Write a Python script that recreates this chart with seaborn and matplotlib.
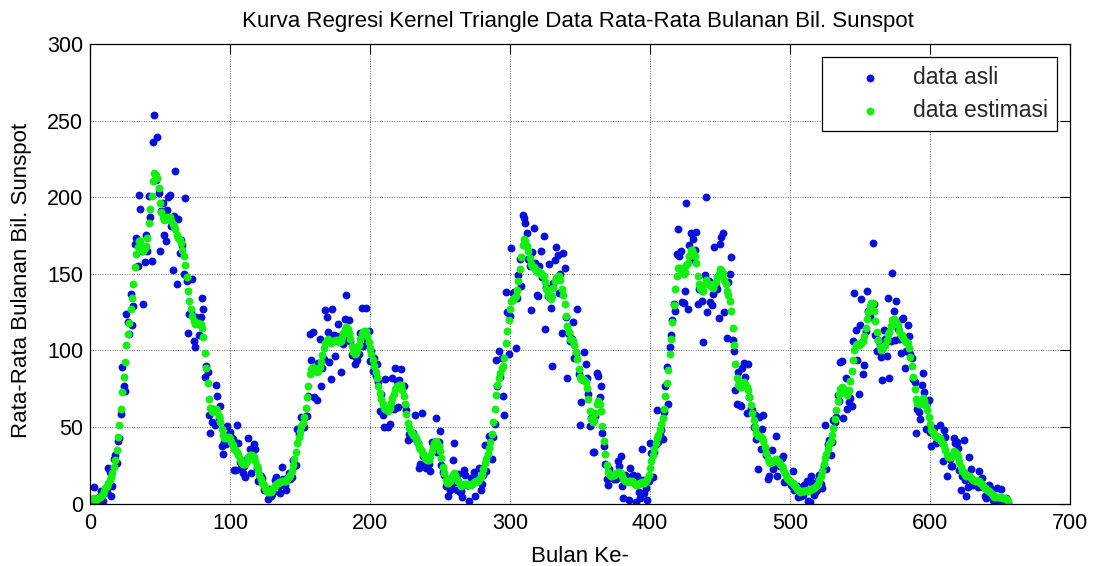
import numpy as np
import matplotlib
matplotlib.use("Agg")
import matplotlib.pyplot as plt
import seaborn as sns

judul = "Kurva Regresi Kernel Triangle Data Rata-Rata Bulanan Bil. Sunspot"
label_x = "Bulan Ke-"
label_y = "Rata-Rata Bulanan Bil. Sunspot"
nama_seri = ["data asli", "data estimasi"]
x_ticks = [0, 100, 200, 300, 400, 500, 600, 700]
y_ticks = [0, 50, 100, 150, 200, 250, 300]

data_asli = [
    0.2, 0.5, 10.9, 1.8, 0.8, 0.2, 4.8, 8.4, 1.5, 7.0, 9.2, 7.6,
    23.1, 20.8, 4.9, 11.3, 28.9, 31.7, 26.7, 40.7, 42.7, 58.5, 89.2, 76.9,
    73.6, 124.0, 118.4, 110.7, 136.6, 116.6, 129.1, 169.6, 173.2, 155.3, 201.3, 192.1,
    165.0, 130.2, 157.4, 175.2, 164.6, 200.7, 187.2, 158.0, 235.8, 253.8, 210.9, 239.4,
    202.5, 164.9, 190.7, 196.0, 175.3, 171.5, 191.4, 200.2, 201.2, 181.5, 152.3, 187.6,
    217.4, 143.1, 185.7, 163.3, 172.0, 168.7, 149.6, 199.6, 145.2, 111.4, 124.0, 125.0,
    146.3, 106.0, 102.2, 122.0, 119.6, 110.2, 121.7, 134.1, 127.2, 82.8, 89.6, 85.6,
    57.9, 46.1, 53.0, 61.4, 51.0, 77.4, 70.2, 55.8, 63.6, 37.7, 32.6, 39.9,
    38.7, 50.3, 45.6, 46.4, 43.7, 42.0, 21.8, 21.8, 51.3, 39.5, 26.9, 23.2,
    19.8, 24.4, 17.1, 29.3, 43.0, 35.9, 19.6, 33.2, 38.8, 35.3, 23.4, 14.9,
    15.3, 17.7, 16.5, 8.6, 9.5, 9.1, 3.1, 9.3, 4.7, 6.1, 7.4, 15.1,
    17.5, 14.2, 11.7, 6.8, 24.1, 15.9, 11.9, 8.9, 16.8, 20.1, 15.8, 17.0,
    28.2, 24.4, 25.3, 48.7, 45.3, 47.7, 56.7, 51.2, 50.2, 57.2, 57.2, 70.4,
    110.9, 93.6, 111.8, 69.5, 86.5, 67.3, 91.5, 107.2, 76.8, 88.2, 94.3, 126.4,
    121.8, 111.9, 92.2, 81.2, 127.2, 110.3, 96.1, 109.3, 117.2, 107.7, 86.0, 109.8,
    104.4, 120.5, 135.8, 106.8, 120.0, 106.0, 96.8, 98.0, 91.3, 95.7, 93.5, 97.9,
    111.5, 127.8, 102.9, 109.5, 127.5, 106.8, 112.5, 93.0, 99.5, 86.6, 95.2, 83.5,
    91.3, 79.0, 60.7, 71.8, 57.5, 49.8, 81.0, 61.4, 50.2, 51.7, 63.2, 82.2,
    61.5, 88.4, 80.1, 63.2, 80.5, 88.0, 76.5, 76.8, 64.0, 61.3, 41.6, 45.3,
    43.4, 42.9, 46.0, 57.7, 42.4, 39.5, 23.1, 25.6, 59.3, 30.7, 23.9, 23.3,
    27.6, 26.0, 21.3, 40.3, 39.5, 36.0, 55.8, 33.6, 40.2, 47.1, 25.0, 20.5,
    18.9, 11.5, 11.5, 5.1, 9.0, 11.4, 28.2, 39.7, 13.9, 9.1, 19.4, 7.8,
    8.1, 4.3, 21.9, 18.8, 12.4, 12.2, 1.9, 16.4, 13.5, 20.6, 5.2, 15.3,
    16.4, 23.1, 8.7, 12.9, 18.6, 38.5, 21.4, 30.1, 44.0, 43.8, 29.1, 43.2,
    51.9, 93.6, 76.5, 99.7, 82.7, 95.1, 70.4, 58.1, 138.2, 125.1, 97.9, 122.7,
    166.6, 137.5, 138.0, 101.5, 134.4, 149.5, 159.4, 142.2, 188.4, 186.2, 183.3, 176.3,
    159.6, 155.0, 126.2, 164.1, 179.9, 157.3, 136.3, 135.4, 155.0, 164.7, 147.9, 174.4,
    114.0, 141.3, 135.5, 156.4, 127.5, 90.0, 143.8, 158.7, 167.3, 162.4, 137.5, 150.1,
    111.2, 163.6, 153.8, 122.0, 82.2, 110.4, 106.1, 107.6, 118.8, 94.7, 98.1, 127.0,
    84.3, 51.0, 66.5, 80.7, 99.2, 91.1, 82.2, 71.8, 50.3, 55.8, 33.3, 33.4,
    57.0, 85.4, 83.5, 69.7, 76.4, 46.1, 37.4, 25.5, 15.7, 12.0, 22.8, 18.7,
    16.5, 15.9, 17.2, 16.2, 27.5, 24.2, 30.7, 11.1, 3.9, 18.6, 16.2, 17.3,
    2.5, 23.2, 15.1, 18.5, 13.7, 1.1, 18.1, 7.4, 3.8, 35.4, 15.2, 6.8,
    10.4, 2.4, 14.7, 39.6, 33.0, 17.4, 33.9, 38.8, 61.0, 40.0, 45.0, 48.0,
    42.0, 60.0, 77.0, 89.0, 65.0, 102.0, 110.0, 120.0, 130.0, 126.0, 163.0, 179.0,
    161.3, 165.1, 131.4, 130.6, 138.5, 196.2, 126.9, 168.9, 176.7, 159.4, 173.0, 165.5,
    177.3, 130.5, 140.3, 140.3, 132.2, 105.4, 149.4, 200.3, 125.2, 145.5, 131.4, 129.7,
    136.9, 167.5, 141.9, 140.0, 121.3, 169.7, 173.7, 176.3, 125.3, 144.1, 108.2, 144.4,
    150.0, 161.1, 106.7, 99.8, 73.8, 65.2, 85.7, 64.5, 63.9, 88.7, 91.8, 82.6,
    59.3, 91.0, 69.8, 62.2, 61.3, 49.8, 57.9, 42.2, 22.4, 56.4, 35.6, 48.9,
    57.8, 35.5, 31.7, 16.1, 17.8, 28.0, 35.1, 22.5, 25.7, 44.0, 18.0, 26.2,
    24.2, 29.9, 31.1, 14.0, 14.5, 15.6, 14.5, 14.3, 11.8, 21.1, 9.0, 10.0,
    11.5, 4.4, 9.2, 4.8, 5.5, 11.8, 8.2, 14.4, 1.6, 0.9, 17.9, 13.3,
    5.7, 7.6, 8.7, 15.5, 18.5, 12.7, 10.4, 24.4, 51.3, 22.8, 39.0, 41.2,
    31.9, 40.3, 54.8, 53.4, 56.3, 70.7, 66.6, 92.2, 92.9, 55.5, 74.0, 81.9,
    62.0, 66.3, 68.8, 63.7, 106.4, 137.7, 113.5, 93.7, 71.5, 116.7, 133.2, 84.6,
    90.1, 112.9, 138.5, 125.5, 121.6, 124.9, 170.1, 130.5, 109.7, 99.4, 106.8, 104.4,
    95.6, 80.6, 113.5, 107.7, 96.6, 134.0, 81.8, 106.4, 150.7, 125.5, 106.5, 132.2,
    114.1, 107.4, 98.4, 120.7, 120.8, 88.3, 99.6, 116.4, 109.6, 97.5, 95.0, 81.6,
    79.5, 46.2, 61.5, 60.0, 55.2, 77.4, 85.0, 72.7, 48.8, 65.5, 67.3, 46.5,
    37.3, 45.8, 49.1, 39.3, 41.5, 43.2, 51.1, 40.9, 27.7, 48.0, 43.5, 17.9,
    31.3, 29.2, 24.5, 24.4, 42.6, 39.6, 39.9, 36.4, 22.1, 8.5, 18.0, 41.2,
    15.3, 4.9, 10.6, 30.2, 22.3, 13.9, 12.2, 12.9, 14.4, 10.5, 21.4, 13.6,
    16.9, 10.6, 4.8, 3.7, 11.7, 12.0, 10.0, 6.2, 2.4, 0.9, 1.7, 10.1,
    3.4, 2.1, 9.3, 2.9, 3.2, 3.4, 0.5, 0.5,
]

data_estimasi = [
    2.7, 2.9, 3.3, 3.2, 3.2, 3.5, 4.2, 4.8, 6.1, 8.2, 9.9, 11.4,
    13.6, 15.6, 17.0, 20.0, 24.1, 28.6, 35.1, 43.3, 51.4, 61.4, 72.6, 82.4,
    92.6, 103.2, 110.8, 118.0, 126.9, 134.1, 143.0, 154.1, 163.0, 167.7, 171.7, 171.4,
    167.4, 165.1, 166.8, 168.4, 173.5, 183.3, 192.0, 200.5, 210.8, 215.8, 214.7, 212.6,
    205.9, 196.2, 190.3, 187.3, 185.1, 185.7, 186.8, 186.7, 187.0, 184.7, 182.3, 181.1,
    179.4, 175.2, 173.5, 172.2, 169.8, 165.5, 161.4, 156.0, 147.9, 138.9, 132.0, 126.9,
    122.5, 118.9, 117.4, 117.6, 118.1, 117.3, 117.2, 114.9, 108.4, 98.4, 88.6, 78.6,
    68.5, 62.3, 60.2, 59.5, 60.1, 61.5, 60.4, 57.2, 53.2, 48.4, 44.6, 43.0,
    42.7, 43.3, 43.3, 42.0, 40.4, 38.5, 35.8, 34.4, 33.8, 31.9, 29.2, 27.3,
    26.1, 25.6, 26.0, 28.0, 30.4, 31.6, 31.6, 31.6, 30.2, 27.6, 24.6, 21.6,
    18.6, 16.0, 13.7, 11.8, 10.2, 8.8, 7.4, 7.2, 7.6, 8.6, 10.0, 11.4,
    12.7, 13.6, 14.0, 14.1, 14.6, 14.6, 14.6, 14.9, 16.1, 17.2, 18.6, 21.4,
    25.1, 28.8, 33.6, 39.2, 43.5, 47.2, 50.4, 52.8, 56.6, 62.2, 69.4, 76.8,
    84.4, 87.8, 89.3, 88.5, 87.4, 85.7, 86.8, 89.4, 92.7, 97.2, 101.8, 104.8,
    106.5, 107.1, 105.6, 104.7, 105.8, 106.0, 105.8, 106.7, 106.8, 105.6, 106.3, 108.8,
    111.1, 113.7, 115.2, 114.0, 111.4, 107.4, 102.8, 99.2, 97.8, 98.4, 100.3, 103.3,
    107.4, 110.8, 112.2, 112.8, 112.4, 109.2, 105.6, 101.6, 97.8, 93.6, 90.0, 86.0,
    82.0, 76.6, 72.0, 68.5, 65.0, 62.3, 61.8, 61.2, 60.7, 62.6, 65.8, 68.6,
    71.2, 74.8, 76.5, 77.0, 77.4, 77.2, 74.0, 70.0, 64.8, 58.6, 52.7, 49.3,
    47.0, 46.0, 45.0, 43.8, 42.0, 39.8, 37.2, 35.4, 34.4, 32.1, 29.8, 28.8,
    28.5, 28.4, 30.8, 34.2, 36.9, 39.2, 40.8, 39.8, 37.6, 34.3, 29.4, 24.0,
    19.6, 15.5, 13.2, 13.3, 14.6, 16.4, 18.9, 19.9, 18.5, 16.3, 14.7, 12.7,
    11.7, 12.2, 12.9, 12.9, 12.7, 12.7, 12.3, 12.4, 12.8, 13.8, 13.9, 14.6,
    15.0, 16.3, 17.1, 19.3, 22.4, 26.3, 28.9, 32.4, 36.0, 40.4, 45.1, 53.0,
    61.6, 71.1, 77.6, 82.1, 85.2, 88.4, 90.0, 94.7, 104.5, 112.8, 119.9, 127.0,
    132.5, 133.0, 134.2, 135.2, 139.4, 145.2, 153.0, 160.7, 169.0, 172.4, 171.4, 168.4,
    164.8, 160.3, 156.4, 155.3, 154.6, 153.1, 151.4, 152.0, 151.3, 150.5, 149.1, 148.4,
    144.3, 140.1, 136.6, 135.1, 133.8, 135.7, 140.4, 145.3, 147.4, 148.8, 148.6, 145.9,
    140.2, 136.3, 130.3, 122.7, 115.7, 111.9, 107.6, 106.6, 106.4, 103.6, 99.1, 94.5,
    87.9, 82.5, 81.1, 81.0, 80.4, 79.2, 75.3, 68.3, 60.4, 55.2, 52.9, 54.3,
    59.4, 64.7, 66.7, 65.2, 60.1, 50.7, 40.8, 32.1, 25.4, 20.8, 19.0, 17.9,
    17.8, 18.4, 19.5, 20.2, 20.8, 20.6, 19.8, 17.8, 15.8, 15.0, 14.4, 14.2,
    14.5, 15.0, 14.6, 14.0, 12.6, 12.3, 12.6, 12.6, 13.1, 14.1, 13.4, 13.2,
    14.5, 16.0, 18.8, 23.3, 27.7, 31.4, 35.8, 39.6, 42.5, 44.6, 47.8, 51.7,
    55.7, 62.0, 70.3, 78.8, 87.3, 97.5, 107.7, 118.7, 129.6, 140.3, 148.8, 153.5,
    153.8, 154.0, 151.2, 149.7, 151.3, 155.4, 157.1, 161.9, 165.5, 165.4, 163.8, 161.7,
    156.8, 148.6, 143.0, 140.6, 138.8, 139.0, 143.2, 145.8, 143.5, 143.6, 142.9, 141.5,
    140.6, 143.4, 144.8, 147.8, 149.7, 153.0, 152.4, 150.4, 146.0, 143.6, 138.9, 136.3,
    132.1, 125.5, 114.5, 103.3, 91.0, 82.1, 77.6, 76.1, 76.0, 78.4, 79.4, 78.2,
    76.2, 74.0, 69.5, 64.6, 59.4, 54.8, 50.0, 46.1, 44.0, 44.1, 43.4, 42.5,
    40.7, 37.1, 32.8, 29.2, 26.8, 26.6, 27.2, 27.6, 28.3, 28.8, 27.7, 26.8,
    25.9, 24.6, 22.6, 20.4, 18.3, 16.8, 15.4, 14.4, 14.0, 13.4, 12.0, 10.8,
    9.6, 8.5, 7.8, 7.9, 8.0, 8.0, 8.3, 8.6, 8.4, 8.6, 9.2, 9.6,
    10.0, 11.0, 11.8, 13.0, 15.6, 18.1, 21.4, 25.8, 30.0, 32.3, 35.7, 38.7,
    41.0, 44.6, 49.6, 54.9, 61.2, 67.0, 71.2, 75.0, 76.2, 74.6, 73.6, 72.0,
    70.8, 73.8, 79.9, 86.4, 93.6, 100.4, 103.8, 104.2, 103.5, 104.0, 105.0, 106.0,
    109.5, 114.6, 120.4, 125.0, 129.2, 131.0, 130.6, 125.4, 119.1, 112.2, 106.9, 102.4,
    100.2, 100.9, 102.8, 103.8, 106.5, 110.6, 112.1, 115.6, 119.7, 120.4, 118.7, 118.7,
    116.3, 112.5, 110.2, 109.7, 108.2, 106.2, 105.6, 104.5, 101.3, 95.9, 90.0, 82.5,
    74.6, 68.0, 65.5, 64.9, 65.2, 67.1, 68.7, 67.2, 63.9, 60.8, 56.7, 51.8,
    48.2, 46.4, 44.8, 43.6, 43.1, 43.0, 42.7, 40.9, 39.0, 37.6, 35.1, 31.7,
    30.6, 30.3, 30.4, 31.8, 34.0, 33.8, 32.3, 30.5, 27.4, 23.6, 21.4, 20.4,
    18.7, 17.8, 17.8, 17.9, 16.8, 16.0, 15.6, 15.0, 14.4, 14.4, 14.5, 13.7,
    12.8, 11.4, 10.2, 9.2, 8.9, 8.2, 7.2, 6.4, 5.3, 4.4, 4.2, 4.4,
    4.4, 4.4, 4.5, 3.9, 3.3, 2.9, 2.3, 1.6,
]

bulan_ke = np.arange(1, len(data_asli) + 1)

BIRU = "#0510dc"
HIJAU = "#12f012"

sns.set_style("white")
plt.rcParams["font.family"] = ["Liberation Sans", "DejaVu Sans"]
FS = 15.5
FS_LEG = 16.5
FS_LAB = 16

W, H = 1096, 566
fig = plt.figure(figsize=(W / 100, H / 100), dpi=100)
fig.patch.set_facecolor("white")
ax = fig.add_axes([90 / W, 1 - 503.5 / H, 980 / W, 459.5 / H])

sns.scatterplot(x=bulan_ke, y=data_asli, color=BIRU, s=32, linewidth=0,
                ax=ax, label=nama_seri[0], zorder=3)
sns.scatterplot(x=bulan_ke, y=data_estimasi, color=HIJAU, s=32, linewidth=0,
                ax=ax, label=nama_seri[1], zorder=4)

ax.set_xlim(x_ticks[0], x_ticks[-1])
ax.set_ylim(y_ticks[0], y_ticks[-1])
ax.set_xticks(x_ticks)
ax.set_yticks(y_ticks)
ax.set_xlabel("")
ax.set_ylabel("")
ax.tick_params(direction="in", length=7, width=0.8, top=True, right=True,
               labelsize=FS, colors="black")
ax.tick_params(axis="x", pad=7)
ax.tick_params(axis="y", pad=5)
ax.grid(True, linestyle=(0, (1, 1.5)), color="#6e6e6e", linewidth=0.7)
ax.set_axisbelow(True)
for sp in ax.spines.values():
    sp.set_color("black")
    sp.set_linewidth(0.9)
    sp.set_zorder(5)

leg = ax.legend(loc="upper right", bbox_to_anchor=((1057 - 90) / 980, (503.5 - 57) / 459.5),
                frameon=True, fancybox=False, framealpha=1, edgecolor="black",
                fontsize=FS_LEG, borderpad=0.38, labelspacing=0.45, handlelength=3.5,
                handletextpad=0.12, borderaxespad=0)
leg.get_frame().set_linewidth(0.9)
leg.set_zorder(10)

fig.text(578 / W, 1 - 21 / H, judul, ha="center", va="center", fontsize=16, color="black")
fig.text(580 / W, 1 - 557 / H, label_x, ha="center", va="center", fontsize=FS_LAB, color="black")
fig.text(22 / W, 1 - 280 / H, label_y, ha="center", va="center", rotation=90,
         fontsize=FS_LAB, color="black")

fig.savefig("out.png", dpi=100, facecolor="white")
